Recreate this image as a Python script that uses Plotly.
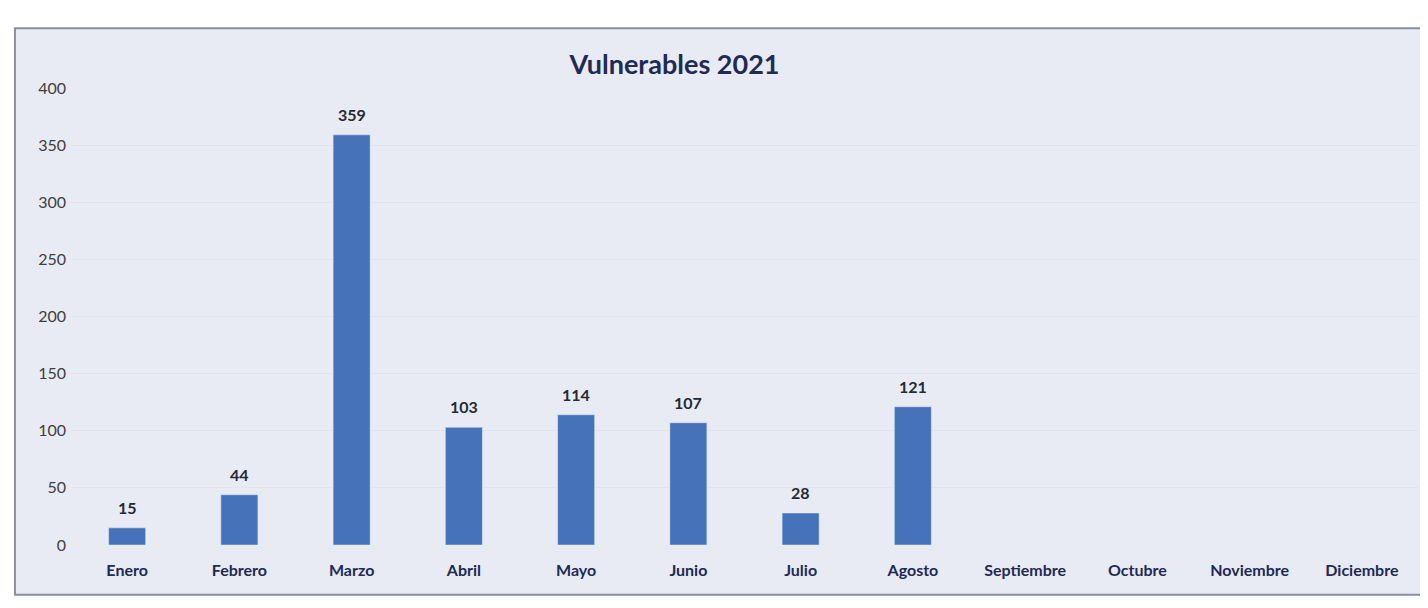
import plotly.graph_objects as go

months = ["Enero", "Febrero", "Marzo", "Abril", "Mayo", "Junio", "Julio", "Agosto",
          "Septiembre", "Octubre", "Noviembre", "Diciembre"]
values = [15, 44, 359, 103, 114, 107, 28, 121, None, None, None, None]
y_ticks = [0, 50, 100, 150, 200, 250, 300, 350, 400]

fig = go.Figure(go.Bar(
    x=months, y=values,
    marker=dict(color="#4672b9"), width=0.33,
))

for m, v in zip(months, values):
    if v is not None:
        fig.add_annotation(x=m, y=v, text=f"<b>{v}</b>", showarrow=False,
                           yanchor="bottom", yshift=9,
                           font=dict(family="Lato", size=16, color="#262a36"))

fig.update_layout(
    width=1420, height=600,
    margin=dict(l=63, r=10, t=80, b=63),
    paper_bgcolor="#ffffff", plot_bgcolor="#e8ebf3",
    title=dict(text="<b>Vulnerables 2021</b>", xref="paper", x=0.448, xanchor="center",
               y=0.905, yanchor="middle",
               font=dict(family="Lato", size=27, color="#1f2a55")),
    showlegend=False,
    font=dict(family="Lato"),
    shapes=[dict(type="rect", xref="paper", yref="paper", x0=-0.0416, x1=1.003, y0=-0.109, y1=1.131,
                 line=dict(color="#8a8f98", width=2), fillcolor="#e8ebf3", layer="below")],
)
fig.update_xaxes(tickfont=dict(family="Lato", size=16, color="#1f2a55", weight="bold"),
                 showline=False, showgrid=False, ticks="", ticklabelstandoff=14)
fig.update_yaxes(range=[0, 400], tickvals=y_ticks, showgrid=True, gridcolor="#e0e3eb",
                 zeroline=False, tickfont=dict(family="Lato", size=16, color="#404040"),
                 ticklabelstandoff=4)

fig.write_html("out.html")
